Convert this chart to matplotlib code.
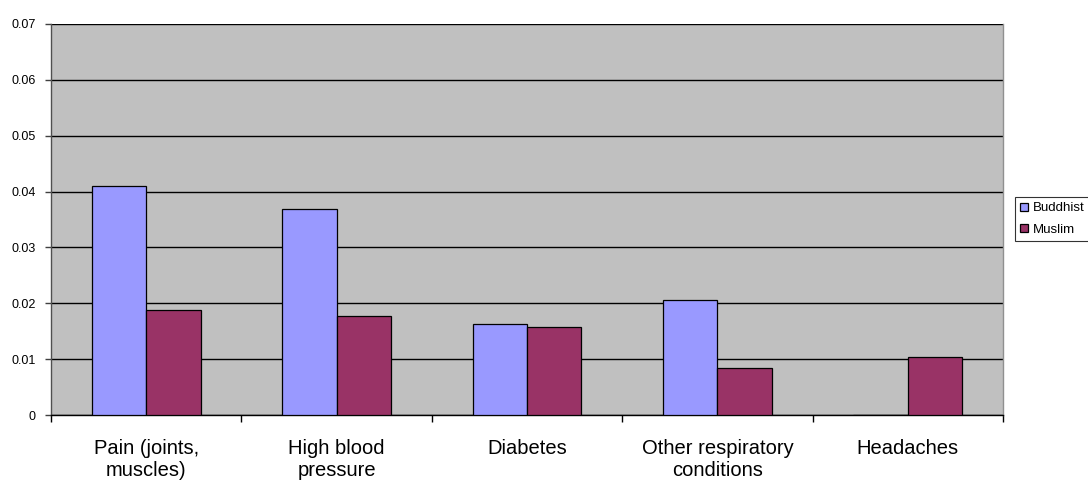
import numpy as np
import matplotlib
matplotlib.use("Agg")
from matplotlib import pyplot as plt

# conditions and the share of each group reporting them
categories = ["Pain (joints,\nmuscles)", "High blood\npressure", "Diabetes",
              "Other respiratory\nconditions", "Headaches"]
buddhist = [0.041, 0.0368, 0.0163, 0.0205, 0.0]
muslim = [0.0188, 0.0177, 0.0157, 0.0085, 0.0104]
series_names = ["Buddhist", "Muslim"]

plt.rcParams['font.family'] = ['Liberation Sans', 'DejaVu Sans']

fig = plt.figure(figsize=(10.88, 4.82), dpi=100)
ax = fig.add_axes([51 / 1088, 1 - 415 / 482, (1003 - 51) / 1088, (415 - 24) / 482])
ax.set_facecolor('#C0C0C0')

x = np.arange(len(categories))
w = 1 / 3.5                                                     # gap width 150%
ax.bar(x - w / 2, buddhist, w, color='#9999FF', edgecolor='black', linewidth=0.9,
       label=series_names[0], zorder=3)
ax.bar(x + w / 2, muslim, w, color='#993366', edgecolor='black', linewidth=0.9,
       label=series_names[1], zorder=3)

ax.set_xlim(-0.5, len(categories) - 0.5)
ax.set_ylim(0, 0.07)
ax.set_yticks(np.arange(0, 0.0701, 0.01))
ax.set_yticklabels(["0"] + ["%.2f" % v for v in np.arange(0.01, 0.0701, 0.01)])
ax.yaxis.grid(True, color='black', linewidth=1.0, zorder=1)
ax.set_axisbelow(True)

# category labels centred, tick marks on the boundaries
ax.set_xticks(x)
ax.set_xticklabels(categories, fontsize=14.5, linespacing=1.2)
ax.tick_params(axis='x', which='major', length=0, pad=17)
ax.set_xticks(np.arange(-0.5, len(categories), 1.0), minor=True)
ax.tick_params(axis='x', which='minor', length=5, width=1, color='black')
ax.tick_params(axis='y', length=4, width=1, color='#404040', labelsize=9, pad=7)

ax.spines['top'].set_visible(False)
ax.spines['right'].set_color('#909090')
ax.spines['left'].set_color('#505050')
ax.spines['bottom'].set_color('black')
for s in ax.spines.values():
    s.set_linewidth(1.0)

leg = fig.legend(loc='upper left', bbox_to_anchor=(1015 / 1088, 1 - 197 / 482),
                 borderaxespad=0, fontsize=9.5, frameon=True, fancybox=False,
                 edgecolor='black', handlelength=0.55, handleheight=0.55,
                 handletextpad=0.38, borderpad=0.4, labelspacing=0.72)
leg.get_frame().set_linewidth(0.8)

fig.savefig("out.png", dpi=100, facecolor='white')
